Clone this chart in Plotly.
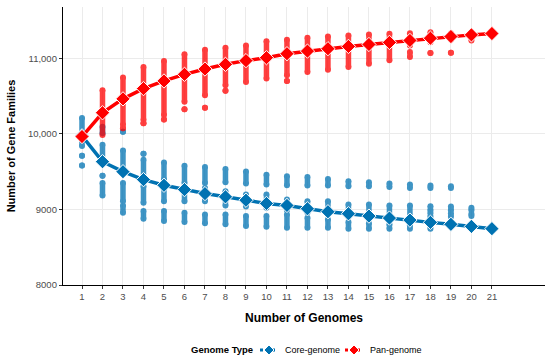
import plotly.graph_objects as go

genomes = list(range(1, 22))
core_mean = [9975, 9632, 9500, 9395, 9320, 9263, 9210, 9167, 9122, 9079, 9053,
             9009, 8970, 8943, 8912, 8886, 8859, 8829, 8803, 8776, 8746]
pan_mean = [9965, 10280, 10464, 10600, 10701, 10789, 10859, 10921, 10970, 11009, 11062,
            11096, 11128, 11158, 11184, 11211, 11237, 11267, 11289, 11311, 11329]

# Point clouds read as vertical bands: genome count, low value, high value
core_band_x = [1, 1, 1, 2, 2, 2, 2, 3, 3, 3, 3, 4, 4, 4, 4, 5, 5, 5, 6, 6, 6, 7, 7, 7,
               8, 8, 8, 9, 9, 9, 10, 10, 10, 11, 11, 11, 12, 12, 12, 13, 13, 13,
               14, 14, 14, 15, 15, 15, 16, 16, 16, 17, 17, 17, 18, 18, 18, 18,
               19, 19, 19, 19, 20, 20, 20, 21]
core_band_lo = [9840, 9711, 9583, 10009, 9640, 9447, 9184, 10030, 9526, 9109, 8957, 9737, 9373, 9088, 8877,
                9395, 9109, 8846, 9351, 9109, 8833, 9351, 9109, 8816,
                9360, 9053, 8803, 9342, 9039, 8780, 9329, 9022, 8772, 9320, 8991, 8759,
                9316, 8957, 8759, 9316, 8934, 8759, 9307, 8904, 8746, 9307, 8890, 8746,
                9298, 8868, 8746, 9285, 8846, 8746, 9285, 8991, 8904, 8746,
                9285, 8991, 8904, 8780, 8991, 8912, 8759, 8746]
core_band_hi = [10210, 9711, 9583, 10096, 9855, 9447, 9351, 10030, 9780, 9351, 9053, 9737, 9658, 9307, 8978,
                9622, 9329, 8978, 9579, 9307, 8957, 9561, 9285, 8934,
                9535, 9241, 8934, 9504, 9197, 8912, 9460, 9197, 8912, 9438, 9132, 8934,
                9430, 9109, 8890, 9404, 9109, 8868, 9373, 9066, 8833, 9360, 9066, 8816,
                9342, 9053, 8803, 9329, 9053, 8790, 9316, 9044, 8957, 8868,
                9307, 9040, 8950, 8825, 9022, 8943, 8790, 8746]

pan_band_x = [1, 2, 3, 3, 4, 4, 5, 5, 6, 6, 7, 7, 8, 8, 9, 10, 11, 11, 12, 13, 14, 15, 16,
              17, 17, 18, 18, 19, 19, 20, 21]
pan_band_lo = [9965, 9987, 10120, 10075, 10184, 10140, 10250, 10190, 10425, 10325, 10513, 10346,
               10645, 10570, 10688, 10733, 10776, 10700, 10820, 10851, 10886, 10930, 10974,
               11171, 11017, 11214, 11070, 11246, 11075, 11237, 11329]
pan_band_hi = [9965, 10579, 10746, 10075, 10886, 10140, 10965, 10190, 11053, 10325, 11114, 10346,
               11141, 10570, 11171, 11228, 11246, 10700, 11272, 11289, 11303, 11316, 11325,
               11333, 11083, 11346, 11070, 11333, 11075, 11346, 11329]

y_tick_vals = [8000, 9000, 10000, 11000]
y_tick_text = ["8000", "9000", "10,000", "11,000"]
series_names = ["Core-genome", "Pan-genome"]
legend_title = "Genome Type"

CORE = "#0072B2"
PAN = "#FF0000"
FONT = "Liberation Sans"

W, H = 550, 360
ML, MR, MT, MB = 63, 5, 7, 75
PW, PH = W - ML - MR, H - MT - MB


def band_xy(xs, los, his):
    bx, by = [], []
    for x, lo, hi in zip(xs, los, his):
        bx += [x, x, None]
        by += [lo, hi, None]
    return bx, by


def px(xp):
    return (xp - ML) / PW


def py(yp):
    return (H - MB - yp) / PH


fig = go.Figure()

for xs, los, his, col in [(core_band_x, core_band_lo, core_band_hi, CORE),
                          (pan_band_x, pan_band_lo, pan_band_hi, PAN)]:
    bx, by = band_xy(xs, los, his)
    fig.add_trace(go.Scatter(
        x=bx, y=by, mode="lines+markers", connectgaps=False,
        line=dict(color=col, width=5.5),
        marker=dict(symbol="circle", size=6, color=col, line=dict(width=0)),
        opacity=0.75, showlegend=False, hoverinfo="skip"))

for ys, col, name in [(core_mean, CORE, series_names[0]), (pan_mean, PAN, series_names[1])]:
    fig.add_trace(go.Scatter(
        x=genomes, y=ys, mode="lines+markers", name=name, showlegend=False,
        line=dict(color=col, width=3.5),
        marker=dict(symbol="diamond", size=11, color=col, line=dict(color="white", width=1))))

# Manual legend (bottom, centred like the ggplot legend)
LY = 350
shapes, annots = [], []
annots.append(dict(text="<b>%s</b>" % legend_title, x=px(189), y=py(LY), xref="paper", yref="paper",
                   xanchor="left", yanchor="middle", showarrow=False,
                   font=dict(size=9.5, color="black", family=FONT)))
for (x0, x1, xt), col, name in [((260, 278, 283), CORE, series_names[0]),
                                ((345, 363, 368), PAN, series_names[1])]:
    shapes.append(dict(type="line", xref="paper", yref="paper", x0=px(x0), x1=px(x1),
                       y0=py(LY), y1=py(LY), line=dict(color=col, width=3, dash="dot")))
    shapes.append(dict(type="path", xref="paper", yref="paper", xsizemode="pixel", ysizemode="pixel",
                       xanchor=px((x0 + x1) / 2), yanchor=py(LY),
                       path="M 0 5 L 5 0 L 0 -5 L -5 0 Z", fillcolor=col, line=dict(color="white", width=1)))
    annots.append(dict(text=name, x=px(xt), y=py(LY), xref="paper", yref="paper",
                       xanchor="left", yanchor="middle", showarrow=False,
                       font=dict(size=9, color="black", family=FONT)))

fig.update_layout(
    width=W, height=H,
    margin=dict(l=ML, r=MR, t=MT, b=MB),
    paper_bgcolor="white", plot_bgcolor="white",
    font=dict(family=FONT, size=10, color="#4d4d4d"),
    showlegend=False,
    shapes=shapes, annotations=annots,
    xaxis=dict(range=[0.073, 23.59], tickvals=genomes, ticktext=[str(g) for g in genomes],
               automargin=False,
               showgrid=True, gridcolor="#ebebeb", gridwidth=1, zeroline=False,
               showline=True, linecolor="black", linewidth=1,
               ticks="outside", ticklen=3, tickcolor="#333333",
               tickfont=dict(size=9.5, color="#4d4d4d"),
               title=dict(text="<b>Number of Genomes</b>", standoff=12,
                          font=dict(size=12, color="black"))),
    yaxis=dict(range=[8000, 11680], tickvals=y_tick_vals, ticktext=y_tick_text,
               automargin=False,
               showgrid=True, gridcolor="#ebebeb", gridwidth=1, zeroline=False,
               showline=True, linecolor="black", linewidth=1.3,
               ticks="outside", ticklen=3, tickcolor="#333333",
               tickfont=dict(size=9.5, color="#4d4d4d"),
               title=dict(text="<b>Number of Gene Families</b>", standoff=10,
                          font=dict(size=11, color="black"))),
)

fig.write_html("out.html", config={"displayModeBar": False},
               post_script="document.body.style.margin='0';")
